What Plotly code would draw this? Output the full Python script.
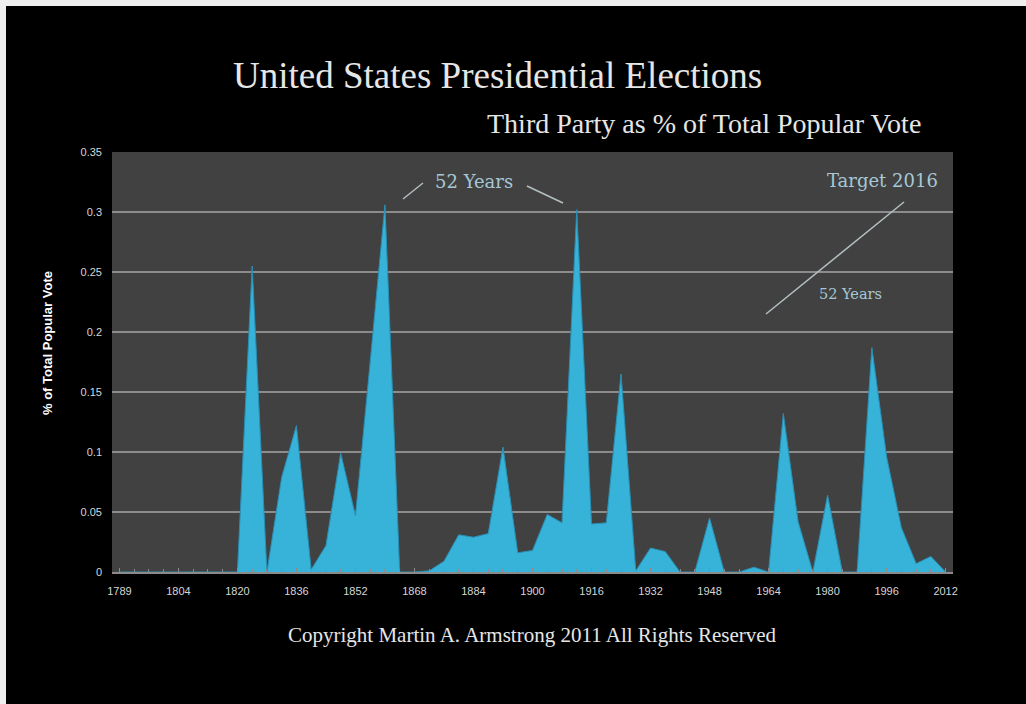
import plotly.graph_objects as go

# ---- data ----
years = [1789] + list(range(1792, 2013, 4))
third_party_share = [
    0, 0, 0, 0, 0, 0, 0, 0, 0,          # 1789-1820
    0.255, 0, 0.079, 0.122, 0.002,      # 1824-1840
    0.022, 0.099, 0.047, 0.175, 0.306,  # 1844-1860
    0, 0, 0.001, 0.009, 0.031,          # 1864-1880
    0.029, 0.032, 0.104, 0.016, 0.018,  # 1884-1900
    0.048, 0.041, 0.302, 0.040, 0.041,  # 1904-1920
    0.165, 0.001, 0.020, 0.017, 0,      # 1924-1940
    0, 0.045, 0, 0, 0.004,              # 1944-1960
    0, 0.132, 0.042, 0, 0.064,          # 1964-1980
    0, 0, 0.187, 0.096, 0.037,          # 1984-2000
    0.007, 0.013, 0,                    # 2004-2012
]
x_tick_every = 4
y_tick_values = [0, 0.05, 0.1, 0.15, 0.2, 0.25, 0.3, 0.35]
y_tick_labels = ["0", "0.05", "0.1", "0.15", "0.2", "0.25", "0.3", "0.35"]

positions = list(range(len(years)))
x_tickvals = positions[::x_tick_every]
x_ticktext = [str(years[i]) for i in x_tickvals]

W, H = 1026, 704
ML, MR, MT, MB = 112, 73, 152, 132
PW, PH = W - ML - MR, H - MT - MB


def px(x):
    return (x - ML) / PW


def py(y):
    return (H - MB - y) / PH


fig = go.Figure()
fig.add_trace(go.Scatter(
    x=positions, y=third_party_share,
    mode="lines", fill="tozeroy",
    line=dict(color="#2a8fb3", width=1),
    fillcolor="#37b2d8",
    hoverinfo="skip", showlegend=False,
))

tickfont = dict(family="Liberation Sans, Arial, sans-serif", size=11, color="#d6d6d6")
fig.update_xaxes(
    range=[-0.5, len(years) - 0.5],
    tickmode="array", tickvals=x_tickvals, ticktext=x_ticktext,
    showgrid=False, zeroline=False,
    showline=True, linecolor="#8a8a8a", linewidth=2,
    ticks="inside", ticklen=4, tickcolor="#8a8a8a", tickwidth=1,
    minor=dict(ticks="inside", ticklen=3, dtick=1, tick0=0, tickcolor="#8a8a8a", showgrid=False),
    tickfont=tickfont, ticklabelstandoff=8,
)
fig.update_yaxes(
    range=[0, 0.35],
    tickmode="array", tickvals=y_tick_values, ticktext=y_tick_labels,
    showgrid=True, gridcolor="#8c8c8c", gridwidth=1.6,
    zeroline=False, showline=False,
    tickfont=tickfont, ticklabelstandoff=9,
)

serif = "Liberation Serif, Times New Roman, serif"
note_font = "DejaVu Serif, Georgia, serif"
note_color = "#a6c8d6"

annotations = [
    dict(text="United States Presidential Elections", x=px(497), y=py(75),
         font=dict(family=serif, size=37, color="#e6e6e6")),
    dict(text="Third Party as % of Total Popular Vote", x=px(704), y=py(123.5),
         font=dict(family=serif, size=28, color="#e6e6e6")),
    dict(text="Copyright Martin A. Armstrong 2011 All Rights Reserved", x=px(532), y=py(635),
         font=dict(family=serif, size=21, color="#e6e6e6")),
    dict(text="% of Total Popular Vote", x=px(47), y=py(343), textangle=-90,
         font=dict(family="Liberation Sans, Arial, sans-serif", size=13, color="#ffffff", weight="bold")),
    dict(text="52 Years", x=px(474), y=py(181),
         font=dict(family=note_font, size=18, color=note_color)),
    dict(text="Target 2016", x=px(882), y=py(180),
         font=dict(family=note_font, size=18, color=note_color)),
    dict(text="52 Years", x=px(850), y=py(294),
         font=dict(family=note_font, size=14.5, color=note_color)),
]
for a in annotations:
    a.update(xref="paper", yref="paper", xanchor="center", yanchor="middle", showarrow=False)

line_style = dict(color="#b4c0c4", width=1.5)
shapes = [
    dict(type="line", x0=px(403), y0=py(199), x1=px(423), y1=py(183), line=line_style),
    dict(type="line", x0=px(527), y0=py(186), x1=px(563), y1=py(203), line=line_style),
    dict(type="line", x0=px(766), y0=py(314), x1=px(904), y1=py(202), line=line_style),
    # light page border strips
    dict(type="rect", x0=px(0), x1=px(6), y0=py(0), y1=py(H), line=dict(width=0), fillcolor="#efefef"),
    dict(type="rect", x0=px(0), x1=px(W), y0=py(0), y1=py(6), line=dict(width=0), fillcolor="#efefef"),
]
for s in shapes:
    s.update(xref="paper", yref="paper")

fig.update_layout(
    width=W, height=H,
    margin=dict(l=ML, r=MR, t=MT, b=MB),
    paper_bgcolor="#000000", plot_bgcolor="#414141",
    annotations=annotations, shapes=shapes,
    showlegend=False,
)

fig.write_html("out.html")
